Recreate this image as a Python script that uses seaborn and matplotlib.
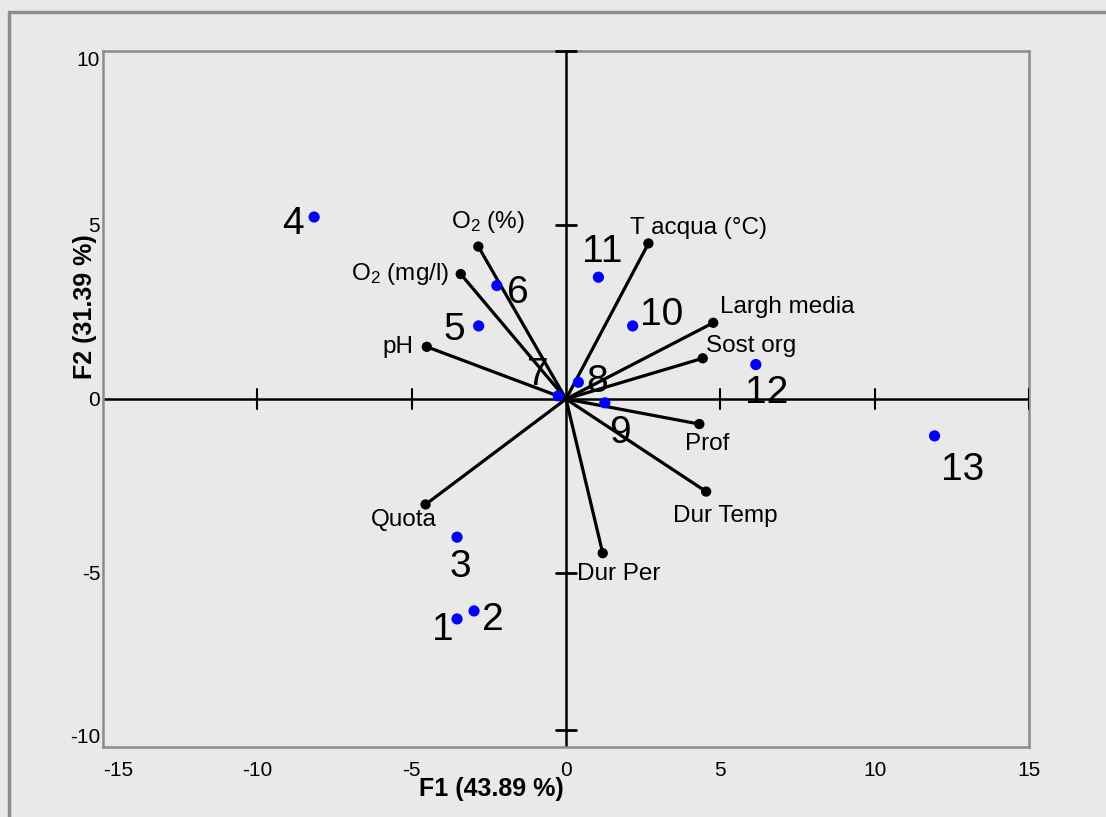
import matplotlib
matplotlib.use("Agg")
import matplotlib.pyplot as plt
import matplotlib.patches as mpatches
import seaborn as sns
import pandas as pd

# ---- data ----
obs_labels = ["1", "2", "3", "4", "5", "6", "7", "8", "9", "10", "11", "12", "13"]
obs_f1 = [-3.53, -2.98, -3.53, -8.16, -2.83, -2.24, -0.25, 0.40, 1.26, 2.16, 1.05, 6.15, 11.94]
obs_f2 = [-6.32, -6.09, -3.97, 5.23, 2.10, 3.26, 0.09, 0.48, -0.11, 2.10, 3.50, 0.99, -1.06]

var_labels = ["T acqua (°C)", "Largh media", "Sost org", "Prof", "Dur Temp",
              "Dur Per", "Quota", "pH", "O$_2$ (mg/l)", "O$_2$ (%)"]
var_f1 = [2.67, 4.77, 4.43, 4.32, 4.54, 1.19, -4.55, -4.51, -3.41, -2.84]
var_f2 = [4.47, 2.19, 1.17, -0.72, -2.66, -4.43, -3.03, 1.50, 3.59, 4.38]

x_ticks = [-15, -10, -5, 0, 5, 10, 15]
y_ticks = [-10, -5, 0, 5, 10]
xlabel = "F1 (43.89 %)"
ylabel = "F2 (31.39 %)"

# ---- layout (label offsets in pixels, alignment) ----
obs_offsets = [(-14, -11), (19, -9), (3, -30), (-21, -7), (-24, -4), (21, -7),
               (-20, 21), (19, 0), (15, -30), (29, 11), (4, 25), (11, -28), (28, -34)]
var_layout = [(-18, 15, "left"), (7, 16, "left"), (3, 12, "left"), (-14, -20, "left"),
              (-33, -24, "left"), (-26, -21, "left"), (11, -16, "right"), (-13, 0, "right"),
              (-11, 0, "right"), (10, 25, "center")]

sns.set_theme(style="white")
plt.rcParams["font.family"] = ["Liberation Sans", "DejaVu Sans"]
plt.rcParams["mathtext.fontset"] = "custom"
plt.rcParams["mathtext.rm"] = "Liberation Sans"
plt.rcParams["mathtext.it"] = "Liberation Sans:italic"
plt.rcParams["mathtext.bf"] = "Liberation Sans:bold"

BG = "#e9e9e9"
GRAY = "#8c8c8c"
PX = 0.72  # points per pixel at dpi=100

fig = plt.figure(figsize=(11.06, 8.17), dpi=100, facecolor=BG)
ax = fig.add_axes([103 / 1106, 1 - 747 / 817, 926 / 1106, 696 / 817])
ax.set_facecolor(BG)

# outer frame (left/top visible)
fig.patches.append(mpatches.Rectangle((9 / 1106, -0.2), 1.5, 1.2 - 12 / 817,
                                      transform=fig.transFigure, fill=False,
                                      edgecolor=GRAY, linewidth=2.5, zorder=0))

ax.set_xlim(-15, 15)
ax.set_ylim(-10, 10)

# central axes lines
ax.axhline(0, color="black", lw=1.8, zorder=2)
ax.axvline(0, color="black", lw=1.8, zorder=2)
tick_hx = [-10, -5, 5, 10, 15]
for t in tick_hx:
    ax.plot([t, t], [-0.29, 0.29], color="black", lw=1.5, zorder=3)
tick_vy = [-9.5, -5, 5, 10]
for t in tick_vy:
    ax.plot([-0.32, 0.32], [t, t], color="black", lw=2.0, zorder=3, clip_on=False)

# variable vectors
for x, y in zip(var_f1, var_f2):
    ax.plot([0, x], [0, y], color="black", lw=2.3, solid_capstyle="round", zorder=3)

var_df = pd.DataFrame({"F1": var_f1, "F2": var_f2, "name": var_labels})
sns.scatterplot(data=var_df, x="F1", y="F2", color="black", s=55, edgecolor="none",
                ax=ax, zorder=4, legend=False)

obs_df = pd.DataFrame({"F1": obs_f1, "F2": obs_f2, "name": obs_labels})
sns.scatterplot(data=obs_df, x="F1", y="F2", color="#0000ff", s=65, edgecolor="none",
                ax=ax, zorder=5, legend=False)

for (lab, x, y), (dx, dy) in zip(zip(obs_labels, obs_f1, obs_f2), obs_offsets):
    ax.annotate(lab, (x, y), xytext=(dx * PX, dy * PX), textcoords="offset points",
                ha="center", va="center", fontsize=28, color="black", zorder=6)

for (lab, x, y), (dx, dy, ha) in zip(zip(var_labels, var_f1, var_f2), var_layout):
    ax.annotate(lab, (x, y), xytext=(dx * PX, dy * PX), textcoords="offset points",
                ha=ha, va="center", fontsize=17.5, color="black", zorder=6)

# frame and ticks
for sp in ax.spines.values():
    sp.set_visible(True)
    sp.set_color(GRAY)
    sp.set_linewidth(1.8)
ax.set_xticks(x_ticks)
ax.set_yticks(y_ticks)
ax.set_xticklabels([str(t) for t in x_ticks])
ax.set_yticklabels([str(t) for t in y_ticks])
ax.tick_params(axis="x", length=0, pad=10, labelsize=15, colors="black")
ax.tick_params(axis="y", length=0, pad=2, labelsize=15, colors="black")
ax.get_xticklabels()[0].set_ha("left")
ax.get_yticklabels()[0].set_va("bottom")
ax.get_yticklabels()[-1].set_va("top")

ax.set_xlabel(xlabel, fontsize=18, fontweight="bold", color="black")
ax.set_ylabel(ylabel, fontsize=18, fontweight="bold", color="black")
ax.xaxis.set_label_coords((491 - 103) / 926, -(789 - 747) / 696)
ax.xaxis.label.set_va("center")
ax.yaxis.set_label_coords((85 - 103) / 926, (747 - 307) / 696)
ax.yaxis.label.set_va("center")

fig.savefig("out.png", dpi=100, facecolor=BG)
